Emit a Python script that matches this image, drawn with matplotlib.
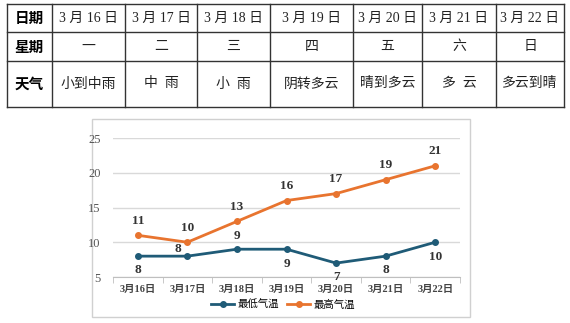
import matplotlib.pyplot as plt
from matplotlib.patches import Rectangle

plt.rcParams['font.family'] = ['Liberation Serif', 'Noto Sans CJK SC', 'DejaVu Sans']

# 表格数据
dates = ["3 月 16 日", "3 月 17 日", "3 月 18 日", "3 月 19 日", "3 月 20 日", "3 月 21 日", "3 月 22 日"]
weekdays = ["一", "二", "三", "四", "五", "六", "日"]
weather = ["小到中雨", "中  雨", "小  雨", "阴转多云", "晴到多云", "多  云", "多云到晴"]
row_heads = ["日期", "星期", "天气"]

# 折线数据
x_labels = ["3月16日", "3月17日", "3月18日", "3月19日", "3月20日", "3月21日", "3月22日"]
low_temp = [8, 8, 9, 9, 7, 8, 10]
high_temp = [11, 10, 13, 16, 17, 19, 21]
low_label_above = [False, True, True, False, False, False, False]

W, H = 570, 323
fig = plt.figure(figsize=(W / 100, H / 100), dpi=100)

# ---- 上方表格 (像素坐标) ----
tab = fig.add_axes([0, 0, 1, 1])
tab.set_xlim(0, W)
tab.set_ylim(H, 0)
tab.axis('off')

col_edges = [7, 52, 125, 197, 270, 353, 422, 496, 564]
row_edges = [4, 32, 61, 107]
line_c = '#333333'
for xe in col_edges:
    tab.plot([xe, xe], [row_edges[0], row_edges[-1]], color=line_c, lw=1.0)
for ye in row_edges:
    tab.plot([col_edges[0], col_edges[-1]], [ye, ye], color=line_c, lw=1.0)

rows = [dates, weekdays, weather]
for r, (head, vals) in enumerate(zip(row_heads, rows)):
    yc = (row_edges[r] + row_edges[r + 1]) / 2
    tab.text((col_edges[0] + col_edges[1]) / 2, yc, head, ha='center', va='center',
             fontsize=10.5, fontweight='bold', family=['Noto Sans CJK SC'])
    for c, v in enumerate(vals):
        xc = (col_edges[c + 1] + col_edges[c + 2]) / 2
        tab.text(xc, yc, v, ha='center', va='center', fontsize=10,
                 family=['Liberation Serif', 'Noto Sans CJK SC'], color='#222222')

# 图表外框
tab.add_patch(Rectangle((92, 119), 378, 198, fill=False, edgecolor='#d0d0d0', lw=1))

# ---- 折线图 ----
ax = fig.add_axes([113 / W, 1 - 277 / H, (460 - 113) / W, (277 - 138) / H])
xs = list(range(len(x_labels)))
low_c = '#1f5b77'
high_c = '#e8742f'
ax.plot(xs, low_temp, color=low_c, lw=2, marker='o', ms=4, label='最低气温')
ax.plot(xs, high_temp, color=high_c, lw=2, marker='o', ms=4, label='最高气温')

for i, v in enumerate(high_temp):
    ax.annotate(str(v), (i, v), xytext=(0, 6), textcoords='offset points',
                ha='center', va='bottom', fontsize=9.5, fontweight='bold', color='#333333')
for i, v in enumerate(low_temp):
    above = low_label_above[i]
    if above and i == 1:
        off = (-7, 1)   # 挤在两条线之间, 往左偏一点
    else:
        off = (0, 5 if above else -6)
    ax.annotate(str(v), (i, v), xytext=off, textcoords='offset points', ha='center',
                va='bottom' if above else 'top',
                fontsize=9.5, fontweight='bold', color='#333333')

ax.set_xlim(-0.5, len(x_labels) - 0.5)
ax.set_ylim(5, 25)
ax.set_yticks([5, 10, 15, 20, 25])
ax.set_xticks(xs)
ax.set_xticklabels(x_labels, fontsize=7.5, fontweight='bold', color='#444444')
ax.set_xticks([i + 0.5 for i in range(-1, len(x_labels))], minor=True)
ax.tick_params(axis='x', which='major', length=0, pad=6)
ax.tick_params(axis='x', which='minor', length=4, color='#bfbfbf')
ax.tick_params(axis='y', length=0, labelsize=9, labelcolor='#555555', pad=9)
ax.grid(axis='y', color='#d9d9d9', lw=1)
ax.set_axisbelow(True)
for s in ['top', 'right', 'left']:
    ax.spines[s].set_visible(False)
ax.spines['bottom'].set_color('#bfbfbf')

fig.legend(loc='center', bbox_to_anchor=(283 / W, 1 - 305 / H), ncol=2, frameon=False,
           handlelength=2.2, handletextpad=0.3, columnspacing=0.8,
           prop={'family': ['Noto Sans CJK SC'], 'size': 7.5})

fig.savefig('out.png', dpi=100, facecolor='white')
